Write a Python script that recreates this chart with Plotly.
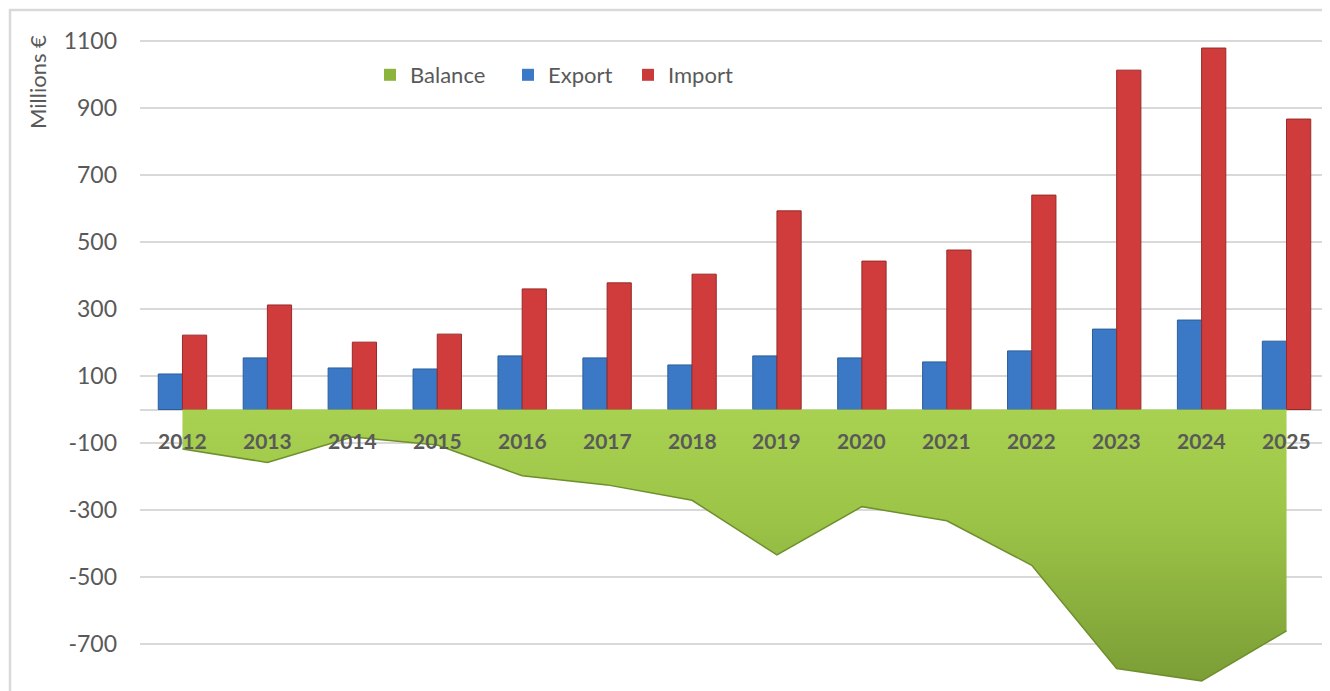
import plotly.graph_objects as go

years = ["2012", "2013", "2014", "2015", "2016", "2017", "2018",
         "2019", "2020", "2021", "2022", "2023", "2024", "2025"]
export_vals = [106, 154, 124, 121, 160, 154, 133, 160, 154, 142, 175, 240, 267, 204]
import_vals = [222, 312, 201, 225, 360, 378, 404, 593, 443, 476, 640, 1013, 1079, 867]
balance_vals = [-118, -158, -82, -106, -198, -225, -271, -434, -290, -332, -465, -773, -810, -661]
ytick_vals = [-700, -500, -300, -100, 100, 300, 500, 700, 900, 1100]

FONT = "Lato"
GRAY = "#595959"
GRID = "#d9d9d9"

fig = go.Figure()

fig.add_trace(go.Scatter(
    x=years, y=balance_vals, mode="lines", fill="tozeroy",
    line=dict(color="#6e8f2c", width=1.5),
    fillgradient=dict(type="vertical",
                      colorscale=[[0, "#7b9e36"], [0.6, "#9cc447"], [1, "#a9d151"]]),
    showlegend=False, hoverinfo="skip", name="Balance"))

fig.add_trace(go.Bar(
    x=years, y=export_vals, name="Export", showlegend=False,
    marker=dict(color="#3b79c6", line=dict(color="#2b5d9a", width=1))))
fig.add_trace(go.Bar(
    x=years, y=import_vals, name="Import", showlegend=False,
    marker=dict(color="#cf3c3b", line=dict(color="#962a29", width=1))))

# legend entries
leg = [("Balance", "#8cb43a", "legend"), ("Export", "#3b79c6", "legend2"),
       ("Import", "#c93a3a", "legend3")]
for name, col, lg in leg:
    fig.add_trace(go.Scatter(x=[years[0]], y=[None], mode="markers", name=name,
                             marker=dict(symbol="square", size=12, color=col),
                             legend=lg, showlegend=True, hoverinfo="skip"))

OFF = 8  # page body margin
W, H = 1322, 683
L, R, T, B = 132, 1, 2, 0
pw = W - L - R
ph = H - T - B


def px_x(p):
    return (p - OFF - L) / pw


def px_y(p):
    return (H - B - (p - OFF)) / ph


legend_common = dict(orientation="h", yanchor="middle", xanchor="left",
                     font=dict(family=FONT, size=22, color=GRAY),
                     bgcolor="rgba(0,0,0,0)", borderwidth=0)

annotations = []
for i, yr in enumerate(years):
    annotations.append(dict(x=i, y=-94, xref="x", yref="y", text="<b>%s</b>" % yr,
                            showarrow=False, font=dict(family=FONT, size=21, color=GRAY),
                            xanchor="center", yanchor="middle"))
annotations.append(dict(x=px_x(37), y=px_y(82), xref="paper", yref="paper",
                        text="Millions €", textangle=-90, showarrow=False,
                        font=dict(family=FONT, size=22, color=GRAY),
                        xanchor="center", yanchor="middle"))

zero_px = 409.5
scale = 0.335
fig.update_layout(
    width=W, height=H,
    margin=dict(l=L, r=R, t=T, b=B, pad=0),
    paper_bgcolor="white", plot_bgcolor="white",
    barmode="group", bargap=0.43, bargroupgap=0,
    font=dict(family=FONT, color=GRAY),
    legend=dict(x=px_x(370), y=px_y(75), **legend_common),
    legend2=dict(x=px_x(508), y=px_y(75), **legend_common),
    legend3=dict(x=px_x(628), y=px_y(75), **legend_common),
    annotations=annotations,
    shapes=[dict(type="rect", xref="paper", yref="paper",
                 x0=px_x(10), x1=px_x(1345), y0=px_y(720), y1=px_y(10),
                 line=dict(color="#d9d9d9", width=2.5), layer="below")],
    xaxis=dict(type="category", categoryorder="array", categoryarray=years,
               range=[-0.5, len(years) - 0.5],
               showticklabels=False, showgrid=False, zeroline=False,
               showline=False, ticks="", fixedrange=True),
    yaxis=dict(range=[(zero_px - 691) / scale, (zero_px - 10) / scale],
               tickvals=ytick_vals, ticktext=[str(v) for v in ytick_vals],
               showgrid=True, gridcolor=GRID, gridwidth=2,
               zeroline=True, zerolinecolor=GRID, zerolinewidth=2,
               showline=False, ticks="", ticklabelstandoff=22,
               tickfont=dict(family=FONT, size=23, color=GRAY)),
)

fig.write_html("out.html")
